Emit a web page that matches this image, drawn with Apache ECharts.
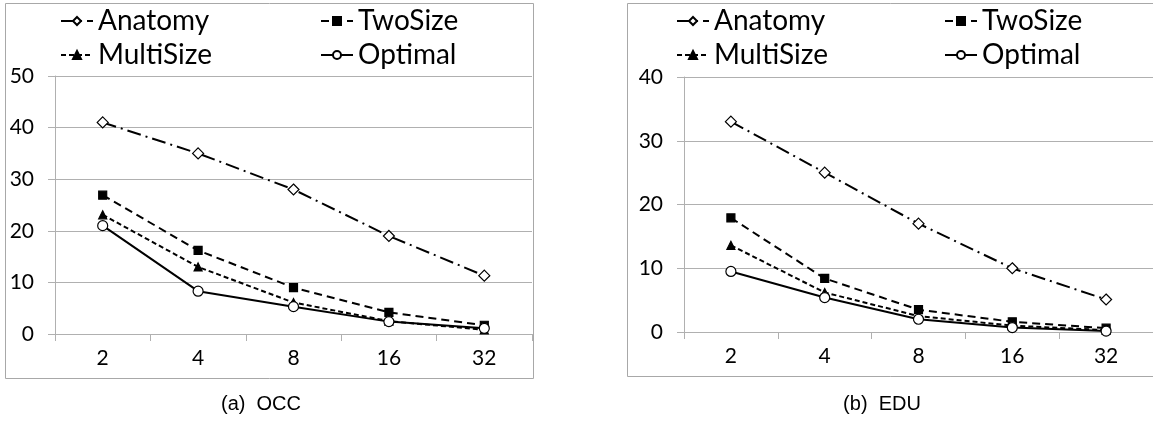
<!DOCTYPE html>
<html>
<head>
<meta charset="utf-8">
<script src="https://cdn.jsdelivr.net/npm/echarts@6/dist/echarts.min.js"></script>
<style>
html,body{margin:0;padding:0;background:#fff;}
#c{width:1153px;height:422px;}
</style>
</head>
<body>
<div id="c"></div>
<script>
const categories = ['2', '4', '8', '16', '32'];
const seriesNames = ['Anatomy', 'TwoSize', 'MultiSize', 'Optimal'];

const occAnatomy   = [41, 35, 28, 19, 11.3];
const occTwoSize   = [26.9, 16.2, 9, 4.2, 1.7];
const occMultiSize = [23.1, 13, 6.1, 2.5, 0.8];
const occOptimal   = [21, 8.3, 5.3, 2.4, 1.1];

const eduAnatomy   = [33, 25, 17, 10, 5.1];
const eduTwoSize   = [17.9, 8.4, 3.5, 1.6, 0.6];
const eduMultiSize = [13.6, 6.2, 2.5, 1.0, 0.3];
const eduOptimal   = [9.5, 5.4, 2.0, 0.7, 0.15];

const occMax = 50, eduMax = 40, yStep = 10;
const captions = ['(a)  OCC', '(b)  EDU'];

const styles = {
  Anatomy:   {symbol: 'diamond', symbolSize: 11, fill: '#fff', dash: [14, 5, 2, 5]},
  TwoSize:   {symbol: 'rect', symbolSize: 8, fill: '#000', dash: [8, 5]},
  MultiSize: {symbol: 'triangle', symbolSize: 8, fill: '#000', dash: [5, 3]},
  Optimal:   {symbol: 'circle', symbolSize: 10, fill: '#fff', dash: 'solid'}
};

const occData = {Anatomy: occAnatomy, TwoSize: occTwoSize, MultiSize: occMultiSize, Optimal: occOptimal};
const eduData = {Anatomy: eduAnatomy, TwoSize: eduTwoSize, MultiSize: eduMultiSize, Optimal: eduOptimal};

const gridColor = '#b0b0b0';
const axisFont = 'Lato, "Open Sans", sans-serif';
const capFont = '"Liberation Sans", Arial, sans-serif';

function mkSeries(name, data, idx) {
  const s = styles[name];
  return {
    name: name, type: 'line', data: data,
    xAxisIndex: idx, yAxisIndex: idx,
    symbol: s.symbol, symbolSize: s.symbolSize,
    showAllSymbol: true,
    lineStyle: {color: '#000', width: 2, type: s.dash},
    itemStyle: {color: s.fill, borderColor: '#000', borderWidth: 1.2},
    emphasis: {disabled: true},
    animation: false,
    z: name === 'Optimal' ? 3 : 2
  };
}

function xAxis(idx) {
  return {
    type: 'category', gridIndex: idx, data: categories, boundaryGap: true,
    axisLine: {show: true, lineStyle: {color: gridColor, width: 1}},
    axisTick: {show: true, length: 7, lineStyle: {color: gridColor}},
    axisLabel: {color: '#000', fontSize: 21, fontFamily: axisFont, margin: 14},
    splitLine: {show: false}
  };
}
function yAxis(idx, max) {
  return {
    type: 'value', gridIndex: idx, min: 0, max: max, interval: yStep,
    axisLine: {show: true, lineStyle: {color: gridColor, width: 1}},
    axisTick: {show: true, length: 7, lineStyle: {color: gridColor}},
    axisLabel: {color: '#000', fontSize: 21, fontFamily: axisFont, margin: 21},
    splitLine: {show: true, lineStyle: {color: gridColor, width: 1}}
  };
}

const legendPos = [
  [{name: 'Anatomy', left: 60, top: 7}, {name: 'TwoSize', left: 320, top: 7},
   {name: 'MultiSize', left: 60, top: 41}, {name: 'Optimal', left: 320, top: 41}],
  [{name: 'Anatomy', left: 676, top: 7}, {name: 'TwoSize', left: 944, top: 7},
   {name: 'MultiSize', left: 676, top: 41}, {name: 'Optimal', left: 944, top: 41}]
];
const legends = [];
legendPos.forEach(group => group.forEach(p => {
  legends.push({
    data: [p.name], left: p.left, top: p.top, orient: 'horizontal',
    itemWidth: 32, itemHeight: 10, selectedMode: false, padding: 0,
    textStyle: {color: '#000', fontSize: 28, fontFamily: axisFont}
  });
}));

const series = [];
seriesNames.forEach(n => series.push(mkSeries(n, occData[n], 0)));
seriesNames.forEach(n => series.push(mkSeries(n, eduData[n], 1)));

const chart = echarts.init(document.getElementById('c'), null, {renderer: 'canvas'});
chart.setOption({
  backgroundColor: '#fff',
  animation: false,
  grid: [
    {left: 55, top: 76, width: 477, height: 258},
    {left: 684, top: 77, width: 471, height: 255}
  ],
  xAxis: [xAxis(0), xAxis(1)],
  yAxis: [yAxis(0, occMax), yAxis(1, eduMax)],
  legend: legends,
  series: series,
  graphic: [
    {type: 'rect', shape: {x: 5.5, y: 3.5, width: 528, height: 375}, style: {fill: null, stroke: '#a8a8a8', lineWidth: 1}, z: -1, silent: true},
    {type: 'rect', shape: {x: 627.5, y: 3.5, width: 540, height: 373}, style: {fill: null, stroke: '#a8a8a8', lineWidth: 1}, z: -1, silent: true},
    {type: 'text', style: {text: captions[0], fontSize: 20, fontFamily: capFont, fill: '#000', x: 261, y: 404, textAlign: 'center', textVerticalAlign: 'middle'}, silent: true},
    {type: 'text', style: {text: captions[1], fontSize: 20, fontFamily: capFont, fill: '#000', x: 882, y: 404, textAlign: 'center', textVerticalAlign: 'middle'}, silent: true}
  ]
});
</script>
</body>
</html>
